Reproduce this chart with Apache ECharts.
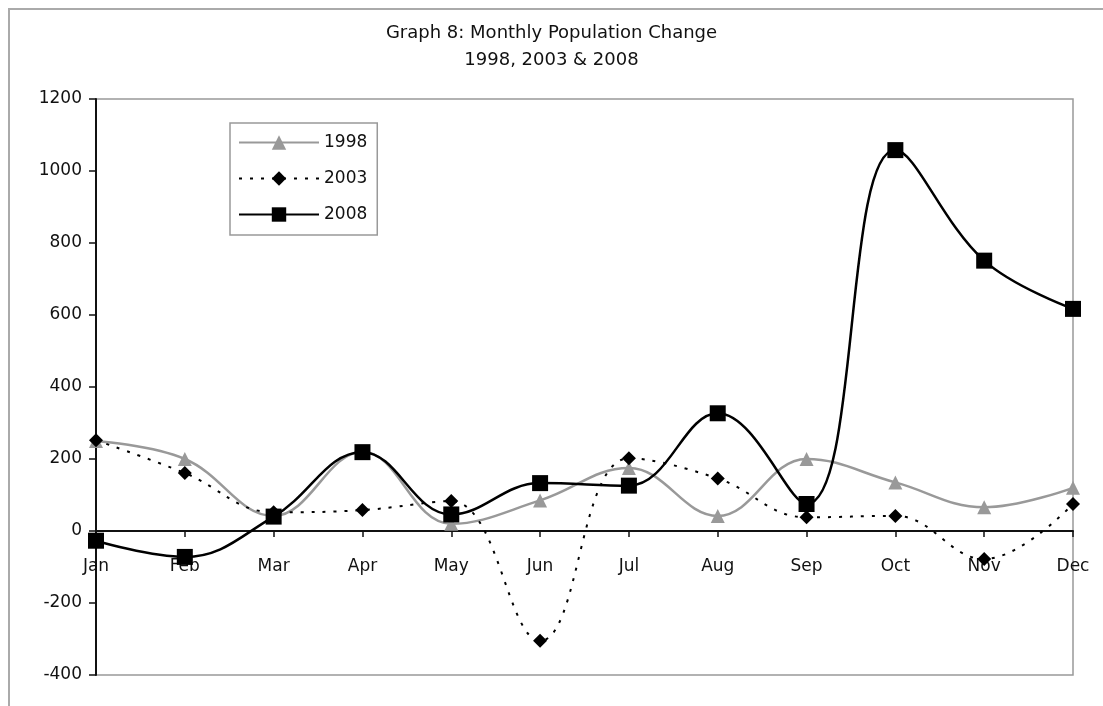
<!DOCTYPE html>
<html>
<head>
<meta charset="utf-8">
<script src="https://cdn.jsdelivr.net/npm/echarts@6/dist/echarts.min.js"></script>
<style>
  html, body { margin: 0; padding: 0; background: #fff; }
  #chart { width: 1103px; height: 706px; }
</style>
</head>
<body>
<div id="chart"></div>
<script>
// months along the x axis
const months = ['Jan', 'Feb', 'Mar', 'Apr', 'May', 'Jun', 'Jul', 'Aug', 'Sep', 'Oct', 'Nov', 'Dec']

// monthly population change
const pop1998 = [250, 200, 42, 220, 20, 85, 175, 42, 200, 135, 66, 120]
const pop2003 = [252, 161, 52, 58, 83, -305, 202, 146, 38, 42, -78, 75]
const pop2008 = [-27, -72, 40, 219, 46, 133, 126, 327, 75, 1058, 751, 617]

const yMin = -400
const yMax = 1200

const gridTop = 99
const gridBottom = 31
const plotHeight = 706 - gridTop - gridBottom
// x axis sits on the zero line, labels follow it
const zeroOffset = -plotHeight * (0 - yMin) / (yMax - yMin)

const chart = echarts.init(document.getElementById('chart'))

const fontName = 'DejaVu Sans, Liberation Sans, Arial, sans-serif'
const labelFont = { fontFamily: fontName, fontSize: 17, color: '#111' }

const option = {
  backgroundColor: '#fff',
  animation: false,
  title: {
    text: 'Graph 8: Monthly Population Change',
    subtext: '1998, 2003 & 2008',
    left: 'center',
    top: 19,
    itemGap: 9,
    textStyle: { fontFamily: fontName, fontSize: 18, fontWeight: 'normal', color: '#111' },
    subtextStyle: { fontFamily: fontName, fontSize: 18, color: '#111' }
  },
  graphic: [
    {
      type: 'rect',
      shape: { x: 9, y: 9, width: 1200, height: 800 },
      style: { fill: 'none', stroke: '#aaa', lineWidth: 2 },
      silent: true
    }
  ],
  legend: {
    orient: 'vertical',
    left: 230,
    top: 123,
    padding: [11, 10, 12, 8],
    itemGap: 19,
    itemWidth: 80,
    itemHeight: 18,
    borderColor: '#999',
    borderWidth: 1.5,
    backgroundColor: '#fff',
    textStyle: labelFont,
    data: ['1998', '2003', '2008']
  },
  grid: {
    left: 96,
    right: 30,
    top: gridTop,
    bottom: gridBottom,
    show: true,
    borderColor: '#999',
    borderWidth: 1.5
  },
  xAxis: {
    type: 'category',
    data: months,
    boundaryGap: false,
    offset: zeroOffset,
    axisLine: { onZero: false, lineStyle: { color: '#111', width: 2 } },
    axisTick: { show: true, length: 6, lineStyle: { color: '#111', width: 1.5 } },
    axisLabel: Object.assign({ margin: 27, interval: 0 }, labelFont),
    splitLine: { show: false }
  },
  yAxis: {
    type: 'value',
    min: yMin,
    max: yMax,
    interval: 200,
    axisLine: { show: true, lineStyle: { color: '#111', width: 2 } },
    axisTick: { show: true, length: 7, lineStyle: { color: '#111', width: 1.5 } },
    axisLabel: Object.assign({ margin: 14, formatter: v => String(v) }, labelFont),
    splitLine: { show: false }
  },
  series: [
    {
      name: '1998',
      type: 'line',
      data: pop1998,
      smooth: 0.4,
      symbol: 'triangle',
      symbolSize: 14,
      itemStyle: { color: '#999' },
      lineStyle: { color: '#999', width: 2.5 },
      z: 2
    },
    {
      name: '2003',
      type: 'line',
      data: pop2003,
      smooth: 0.4,
      symbol: 'diamond',
      symbolSize: 14,
      itemStyle: { color: '#000' },
      lineStyle: { color: '#000', width: 2, type: [3, 8] },
      z: 3
    },
    {
      name: '2008',
      type: 'line',
      data: pop2008,
      smooth: 0.4,
      symbol: 'rect',
      symbolSize: 16,
      itemStyle: { color: '#000' },
      lineStyle: { color: '#000', width: 2.5 },
      z: 4
    }
  ]
}

chart.setOption(option)
window.addEventListener('resize', () => chart.resize())
</script>
</body>
</html>
